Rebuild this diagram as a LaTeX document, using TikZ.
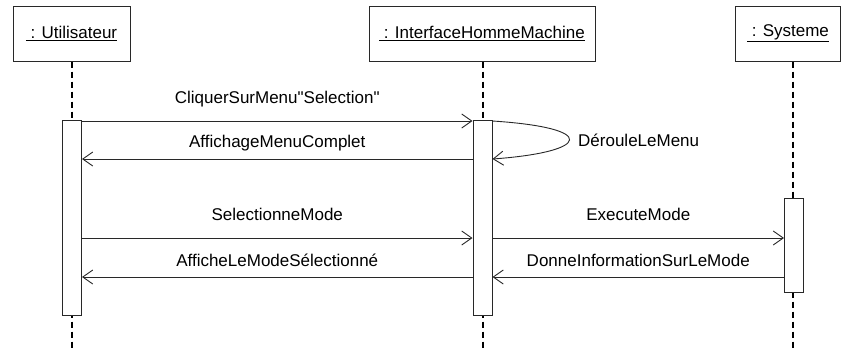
\documentclass[tikz,border=0pt]{standalone}
\usepackage{fontspec}
\setmainfont{Liberation Sans}
\usetikzlibrary{positioning, arrows.meta}
\definecolor{umlLine}{RGB}{40, 40, 40}

\begin{document}
\begin{tikzpicture}[
    x=1pt, y=-1pt,
    font=\fontsize{17}{20}\selectfont,
    >={Straight Barb[length=10pt, width=14pt]},
    obj/.style={
        draw=umlLine,
        fill=white,
        rectangle,
        line width=1pt,
        inner sep=0pt,
        minimum height=55pt
    },
    lifeline/.style={
        draw=black,
        line width=1.7pt,
        dash pattern=on 6pt off 4pt
    },
    activation/.style={
        draw=umlLine,
        fill=white,
        rectangle,
        line width=1pt,
        inner sep=0pt,
        minimum width=19pt,
        anchor=north
    },
    msg/.style={
        draw=umlLine,
        ->,
        line width=0.9pt
    },
    lbl/.style={
        anchor=base,
        inner sep=0pt
    }
]
\useasboundingbox (0,0) rectangle (841,351);

% 1. Objects and lifelines
\node[obj, minimum width=117pt] (user) at (71.5,33.5) {\underline{\ : Utilisateur}};
\node[obj, minimum width=226pt] (ihm) at (482,33.5) {\underline{\ : InterfaceHommeMachine}};
\node[obj, minimum width=105pt] (sys) at (788,33.5) {\underline{\ : Systeme}};

\coordinate (user_end) at (72,351);
\coordinate (ihm_end) at (483,351);
\coordinate (sys_end) at (793,351);

\draw[lifeline] (user.south -| user_end) -- (user_end);
\draw[lifeline] (ihm.south -| ihm_end) -- (ihm_end);
\draw[lifeline] (sys.south -| sys_end) -- (sys_end);

% 2. Activation bars
\node[activation, minimum height=195pt] (user_act) at (72,120) {};
\node[activation, minimum height=195pt] (ihm_act) at (482.5,120) {};
\node[activation, minimum height=94pt] (sys_act) at (794,198) {};

% 3. Messages
\coordinate (m1) at (0,121);
\coordinate (m2) at (0,159);
\coordinate (m3) at (0,238);
\coordinate (m4) at (0,277);

\draw[msg] (user_act.east |- m1) -- node[lbl, yshift=18pt] {CliquerSurMenu\textquotedbl Selection\textquotedbl} (ihm_act.west |- m1);
\draw[msg] (ihm_act.west |- m2) -- node[lbl, yshift=11.5pt] {AffichageMenuComplet} (user_act.east |- m2);
\draw[msg] (ihm_act.east |- m1) .. controls (600,128) and (590,152) .. (ihm_act.east |- m2);
\node[lbl, anchor=base west] (deroule) at (578,146) {DérouleLeMenu};

\draw[msg] (user_act.east |- m3) -- node[lbl, yshift=17.5pt] {SelectionneMode} (ihm_act.west |- m3);
\draw[msg] (ihm_act.west |- m4) -- node[lbl, yshift=10.5pt] {AfficheLeModeSélectionné} (user_act.east |- m4);
\draw[msg] (ihm_act.east |- m3) -- node[lbl, yshift=18pt] {ExecuteMode} (sys_act.west |- m3);
\draw[msg] (sys_act.west |- m4) -- node[lbl, yshift=11pt] {DonneInformationSurLeMode} (ihm_act.east |- m4);

\end{tikzpicture}
\end{document}
